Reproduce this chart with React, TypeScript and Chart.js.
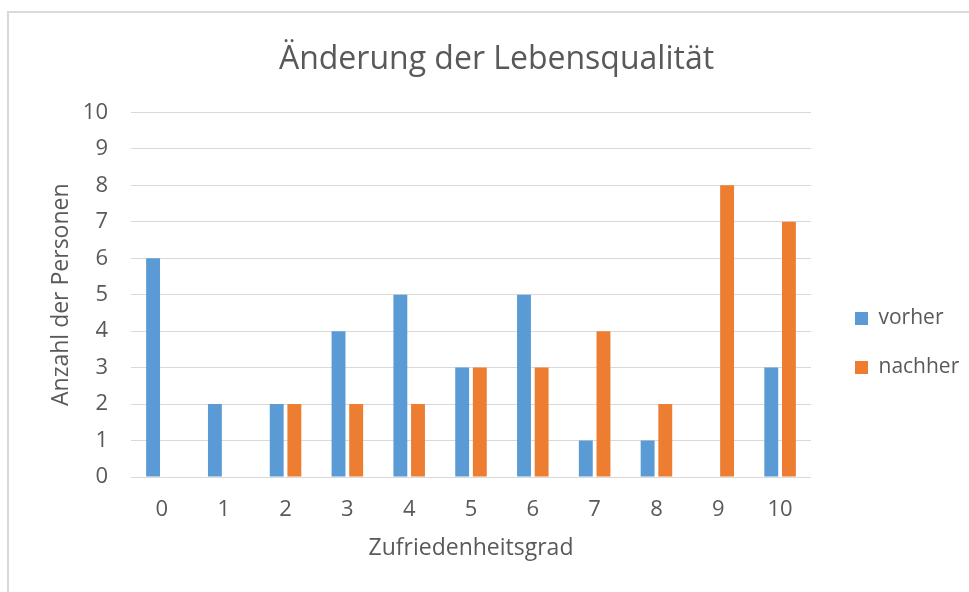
import React, { useEffect, useRef } from "react";
import { Chart, registerables } from "chart.js";

Chart.register(...registerables);

const categories = ["0", "1", "2", "3", "4", "5", "6", "7", "8", "9", "10"];
const vorher = [6, 2, 2, 4, 5, 3, 5, 1, 1, 0, 3];
const nachher = [0, 0, 2, 2, 2, 3, 3, 4, 2, 8, 7];
const seriesNames = ["vorher", "nachher"];
const yMin = 0;
const yMax = 10;
const yStep = 1;

const titleText = "Änderung der Lebensqualität";
const xTitle = "Zufriedenheitsgrad";
const yTitle = "Anzahl der Personen";

const FONT = "'Open Sans', 'Noto Sans', sans-serif";
const GREY = "#595959";
const GRID = "#d9d9d9";
const BLUE = "#5b9bd5";
const ORANGE = "#ed7d31";

const LEGEND_DX = 16;
const LEGEND_DY = 52;
const LEGEND_EXTRA_W = 80;
const TITLE_DX = 7;

const nudge = {
  id: "nudge",
  afterLayout(chart: any) {
    const l = chart.legend;
    if (l) {
      l.left += LEGEND_DX;
      l.right += LEGEND_DX + LEGEND_EXTRA_W;
      l.width += LEGEND_EXTRA_W;
      l.top += LEGEND_DY;
      l.bottom += LEGEND_DY;
    }
    const t = chart.titleBlock;
    if (t) {
      t.left += TITLE_DX;
      t.right += TITLE_DX;
    }
  },
};

export default function App() {
  const ref = useRef<HTMLCanvasElement | null>(null);

  useEffect(() => {
    if (!ref.current) return;
    const chart = new Chart(ref.current, {
      type: "bar",
      data: {
        labels: categories,
        datasets: [
          {
            label: seriesNames[0],
            data: vorher,
            backgroundColor: BLUE,
            categoryPercentage: 0.571,
            barPercentage: 0.787,
          },
          {
            label: seriesNames[1],
            data: nachher,
            backgroundColor: ORANGE,
            categoryPercentage: 0.571,
            barPercentage: 0.787,
          },
        ],
      },
      options: {
        animation: false,
        responsive: false,
        maintainAspectRatio: false,
        layout: { padding: { left: 41, right: 31, top: 0, bottom: 10 } },
        plugins: {
          tooltip: { enabled: false },
          title: {
            display: true,
            text: titleText,
            color: GREY,
            font: { family: FONT, size: 32, weight: "normal", lineHeight: 1.2 },
            padding: { top: 41, bottom: 33 },
          },
          legend: {
            display: true,
            position: "right",
            maxWidth: 127,
            labels: {
              color: GREY,
              font: { family: FONT, size: 21 },
              boxWidth: 13,
              boxHeight: 13,
              padding: 28,
            },
          },
        },
        scales: {
          x: {
            afterFit: (s: any) => {
              s.height = 105;
            },
            grid: { display: false, drawTicks: false },
            border: { display: false },
            ticks: {
              color: GREY,
              font: { family: FONT, size: 22 },
              padding: 20,
            },
            title: {
              display: true,
              text: xTitle,
              color: GREY,
              font: { family: FONT, size: 23, lineHeight: 1.2 },
              padding: { top: 5, bottom: 20 },
            },
          },
          y: {
            min: yMin,
            max: yMax,
            afterFit: (s: any) => {
              s.width = 90;
            },
            grid: { color: GRID, lineWidth: 1, drawTicks: false },
            border: { display: false },
            ticks: {
              stepSize: yStep,
              color: GREY,
              font: { family: FONT, size: 22 },
              padding: 23,
            },
            title: {
              display: true,
              text: yTitle,
              color: GREY,
              font: { family: FONT, size: 23, lineHeight: 1.2 },
              padding: { top: 7, bottom: 0 },
            },
          },
        },
      },
      plugins: [nudge],
    });
    return () => chart.destroy();
  }, []);

  return (
    <div
      style={{
        position: "fixed",
        left: 0,
        top: 0,
        width: 969,
        height: 592,
        overflow: "hidden",
        background: "#fff",
      }}
    >
      <div
        style={{
          position: "absolute",
          left: 7,
          top: 11,
          width: 1100,
          height: 700,
          border: `2px solid ${GRID}`,
          boxSizing: "border-box",
        }}
      />
      <canvas
        ref={ref}
        width={969}
        height={592}
        style={{ position: "absolute", left: 0, top: 0, width: 969, height: 592 }}
      />
    </div>
  );
}
